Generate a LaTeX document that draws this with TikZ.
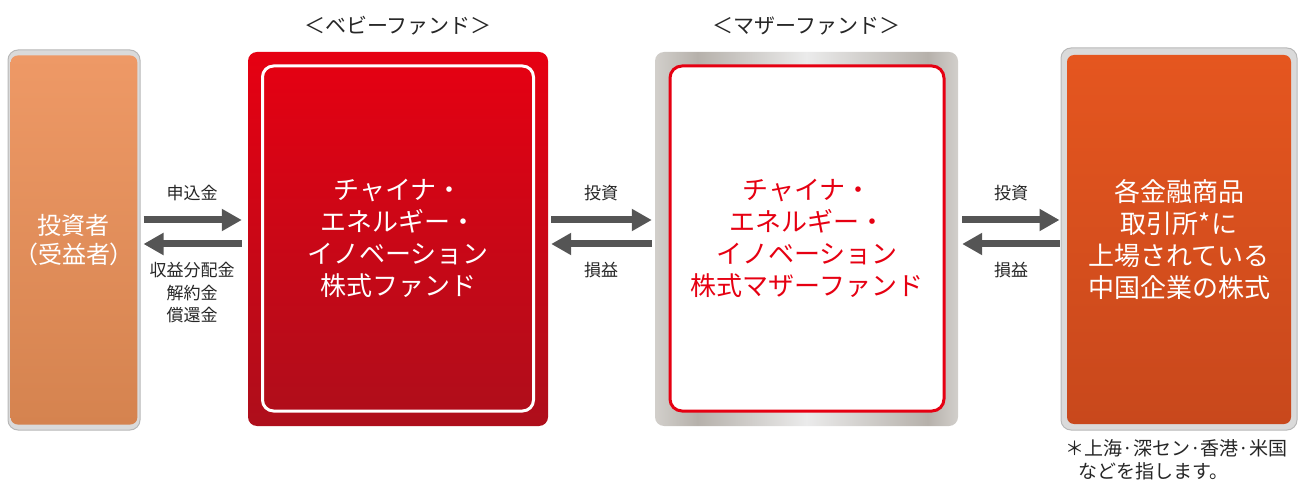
\documentclass[tikz,border=0pt]{standalone}
\usepackage{fontspec}
\setmainfont{Noto Sans CJK JP}
\usetikzlibrary{positioning,arrows.meta}

\definecolor{fundred}{HTML}{E60012}
\definecolor{fundredlow}{HTML}{AE0E1B}
\definecolor{invtop}{HTML}{EE9966}
\definecolor{invlow}{HTML}{D5834F}
\definecolor{stocktop}{HTML}{E5561F}
\definecolor{stocklow}{HTML}{C8481C}
\definecolor{rimfill}{HTML}{DADADA}
\definecolor{rimline}{HTML}{B8B8B8}
\definecolor{arrowgray}{HTML}{555555}
\definecolor{mtlA}{HTML}{D2CFCB}
\definecolor{mtlB}{HTML}{B6B1AB}
\definecolor{mtlC}{HTML}{EBEBEB}
\pgfdeclarehorizontalshading{metal}{100bp}{color(0bp)=(mtlA); color(25bp)=(mtlA); color(32bp)=(mtlB); color(50bp)=(mtlC); color(70bp)=(mtlB); color(75bp)=(mtlA); color(100bp)=(mtlA)}

\tikzset{
  rim/.style={draw=rimline, fill=rimfill, line width=1pt, rounded corners=10pt},
  boxtext/.style={text=white, align=center, font=\fontsize{26}{32}\selectfont},
  flow/.style={draw=arrowgray, line width=7pt, -{Triangle[length=20pt, width=21pt]}},
  lbl/.style={align=center, text=black!85, font=\fontsize{17}{22.5}\selectfont},
  fundtitle/.style={text=black!85, font=\fontsize{21}{24}\selectfont}
}

\begin{document}
\begin{tikzpicture}[x=1pt, y=-1pt]
  \useasboundingbox (0,0) rectangle (1307,486);

  % investor
  \node[rim, minimum width=132pt, minimum height=380pt] (inv) at (74,240) {};
  \node[rounded corners=7pt, top color=invtop, bottom color=invlow,
        minimum width=120pt, minimum height=369pt, boxtext,
        font=\fontsize{24}{29}\selectfont] (invin) at (74,240) {投資者\\（受益者）};

  % baby fund
  \node[rounded corners=9pt, top color=fundred, bottom color=fundredlow,
        minimum width=300pt, minimum height=374pt] (baby) at (398,239) {};
  \node[draw=white, line width=3pt, rounded corners=11pt,
        minimum width=271pt, minimum height=345pt, boxtext] (babyin) at (398,238.5)
    {チャイナ・\\エネルギー・\\イノベーション\\株式ファンド};
  \node[fundtitle, above=13pt of baby] (babyttl) {＜ベビーファンド＞};

  % mother fund
  \node[rounded corners=9pt, shading=metal,
        minimum width=303pt, minimum height=374pt] (mother) at (806.5,239) {};
  \node[draw=fundred, fill=white, line width=3pt, rounded corners=12pt,
        minimum width=274pt, minimum height=345pt, boxtext, text=fundred] (motherin) at (807,238.5)
    {チャイナ・\\エネルギー・\\イノベーション\\株式マザーファンド};
  \node[fundtitle, above=13pt of mother] (motherttl) {＜マザーファンド＞};

  % stocks
  \node[rim, minimum width=236pt, minimum height=382pt] (stock) at (1179,239) {};
  \node[rounded corners=7pt, top color=stocktop, bottom color=stocklow,
        minimum width=224pt, minimum height=369pt, boxtext] (stockin) at (1179,239.5)
    {各金融商品\\取引所*に\\上場されている\\中国企業の株式};
  \node[anchor=north west, align=left, text=black!85,
        font=\fontsize{19}{23}\selectfont] (note) at (1062,436)
    {＊上海·深セン·香港·米国\\\hspace*{0.7em}などを指します。};

  % arrows
  \draw[flow, shorten <=3pt, shorten >=6pt] ([yshift=20pt]inv.east) -- ([yshift=20pt]inv.east -| baby.west);
  \draw[flow, shorten <=6pt, shorten >=3pt] ([yshift=-4pt]inv.east -| baby.west) -- ([yshift=-4pt]inv.east);
  \draw[flow, shorten <=3pt, shorten >=3pt] ([yshift=19pt]baby.east) -- ([yshift=19pt]baby.east -| mother.west);
  \draw[flow, shorten <=3pt, shorten >=3pt] ([yshift=-5pt]baby.east -| mother.west) -- ([yshift=-5pt]baby.east);
  \draw[flow, shorten <=4pt, shorten >=1pt] ([yshift=19pt]mother.east) -- ([yshift=19pt]mother.east -| stock.west);
  \draw[flow, shorten <=1pt, shorten >=4pt] ([yshift=-5pt]mother.east -| stock.west) -- ([yshift=-5pt]mother.east);

  % arrow labels
  \node[lbl] (subs) at (192,193) {申込金};
  \node[lbl] (pay) at (192,293) {収益分配金\\解約金\\償還金};
  \node[lbl] (inv1) at (601,193) {投資};
  \node[lbl] (pl1) at (601,270) {損益};
  \node[lbl] (inv2) at (1011,193) {投資};
  \node[lbl] (pl2) at (1011,270) {損益};
\end{tikzpicture}
\end{document}
